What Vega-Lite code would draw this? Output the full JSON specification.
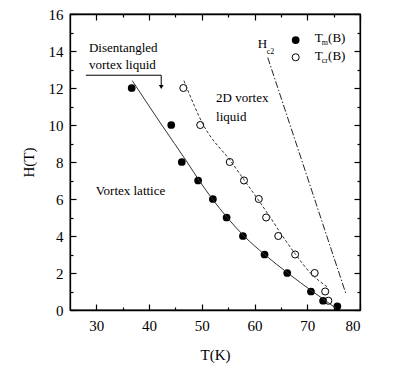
{
  "$schema": "https://vega.github.io/schema/vega-lite/v6.json",
  "width": 290,
  "height": 296,
  "autosize": "none",
  "padding": {"left": 70, "top": 14, "right": 55, "bottom": 60},
  "background": "white",
  "config": {
    "view": {"stroke": "#000", "strokeWidth": 1.3},
    "axis": {"tickColor": "#000", "tickWidth": 1.2, "grid": false, "domainColor": "#000", "domainWidth": 1.3,
             "labelFont": "Liberation Serif", "labelFontSize": 15, "labelColor": "#000",
             "titleFont": "Liberation Serif", "titleFontSize": 15, "titleFontWeight": "normal", "titleColor": "#000"}
  },
  "resolve": {"axis": {"x": "independent", "y": "independent"}},
  "layer": [
    {
      "data": {"values": [
        {"T": 36.7, "H": 12}, {"T": 44.2, "H": 10}, {"T": 46.2, "H": 8},
        {"T": 49.3, "H": 7}, {"T": 52.1, "H": 6}, {"T": 54.7, "H": 5},
        {"T": 57.8, "H": 4}, {"T": 61.9, "H": 3}, {"T": 66.2, "H": 2},
        {"T": 70.7, "H": 1}, {"T": 73.0, "H": 0.5}, {"T": 75.7, "H": 0.2},
        {"T": 67.8, "H": 14.59}
      ]},
      "mark": {"type": "point", "shape": "circle", "filled": true, "color": "#000", "size": 60, "opacity": 1},
      "encoding": {
        "x": {"field": "T", "type": "quantitative", "scale": {"domain": [25, 80], "nice": false},
              "axis": {"orient": "bottom", "title": "T(K)", "titlePadding": 14, "tickSize": -6, "labelPadding": 14,
                       "values": [30, 40, 50, 60, 70, 80]}},
        "y": {"field": "H", "type": "quantitative", "scale": {"domain": [0, 16], "nice": false},
              "axis": {"orient": "left", "title": "H(T)", "titlePadding": 12, "tickSize": -6, "labelPadding": 13,
                       "values": [0, 2, 4, 6, 8, 10, 12, 14, 16]}}
      }
    },
    {
      "data": {"values": [
        {"T": 46.5, "H": 12}, {"T": 49.7, "H": 10}, {"T": 55.3, "H": 8},
        {"T": 58.0, "H": 7}, {"T": 60.8, "H": 6}, {"T": 62.2, "H": 5},
        {"T": 64.5, "H": 4}, {"T": 67.7, "H": 3}, {"T": 71.4, "H": 2},
        {"T": 73.4, "H": 1}, {"T": 74.0, "H": 0.5},
        {"T": 67.8, "H": 13.66}
      ]},
      "mark": {"type": "point", "shape": "circle", "filled": false, "color": "#000", "strokeWidth": 1, "size": 50, "opacity": 1},
      "encoding": {
        "x": {"field": "T", "type": "quantitative",
              "axis": {"orient": "top", "tickSize": -6, "labels": false, "title": null, "values": [30, 40, 50, 60, 70, 80]}},
        "y": {"field": "H", "type": "quantitative",
              "axis": {"orient": "right", "tickSize": -6, "labels": false, "title": null, "values": [0, 2, 4, 6, 8, 10, 12, 14, 16]}}
      }
    },
    {
      "data": {"values": [
        {"T": 36.8, "H": 12.4}, {"T": 42.4, "H": 10}, {"T": 47.2, "H": 8},
        {"T": 49.5, "H": 7}, {"T": 52.0, "H": 6}, {"T": 54.8, "H": 5},
        {"T": 58.0, "H": 4}, {"T": 61.9, "H": 3}, {"T": 66.3, "H": 2},
        {"T": 71.0, "H": 1}, {"T": 73.5, "H": 0.5}, {"T": 75.4, "H": 0.1}
      ]},
      "mark": {"type": "line", "color": "#333", "strokeWidth": 1, "interpolate": "monotone"},
      "encoding": {
        "x": {"field": "T", "type": "quantitative",
              "axis": {"orient": "bottom", "tickSize": -3, "labels": false, "domain": false, "title": null, "values": [35, 45, 55, 65, 75]}},
        "y": {"field": "H", "type": "quantitative",
              "axis": {"orient": "left", "tickSize": -3, "labels": false, "domain": false, "title": null, "values": [1, 3, 5, 7, 9, 11, 13, 15]}}
      }
    },
    {
      "data": {"values": [
        {"T": 46.6, "H": 12.4}, {"T": 50.3, "H": 10}, {"T": 55.6, "H": 8},
        {"T": 58.1, "H": 7}, {"T": 60.6, "H": 6}, {"T": 63.0, "H": 5},
        {"T": 65.3, "H": 4}, {"T": 67.8, "H": 3}, {"T": 70.6, "H": 2},
        {"T": 73.8, "H": 1.25}
      ]},
      "mark": {"type": "line", "color": "#333", "strokeWidth": 1, "strokeDash": [3, 2], "interpolate": "monotone"},
      "encoding": {
        "x": {"field": "T", "type": "quantitative",
              "axis": {"orient": "top", "tickSize": -3, "labels": false, "domain": false, "title": null, "values": [35, 45, 55, 65, 75]}},
        "y": {"field": "H", "type": "quantitative",
              "axis": {"orient": "right", "tickSize": -3, "labels": false, "domain": false, "title": null, "values": [1, 3, 5, 7, 9, 11, 13, 15]}}
      }
    },
    {
      "data": {"values": [{"T": 62.5, "H": 13.65}, {"T": 77.3, "H": 0.9}]},
      "mark": {"type": "line", "color": "#222", "strokeWidth": 1, "strokeDash": [7, 2, 1.5, 2]},
      "encoding": {
        "x": {"field": "T", "type": "quantitative", "axis": null},
        "y": {"field": "H", "type": "quantitative", "axis": null}
      }
    },
    {
      "data": {"values": [
        {"T": 28.0, "T2": 42.3, "H": 12.69, "H2": 12.69},
        {"T": 42.3, "T2": 42.3, "H": 12.69, "H2": 12.1}
      ]},
      "mark": {"type": "rule", "color": "#000", "strokeWidth": 1},
      "encoding": {
        "x": {"field": "T", "type": "quantitative", "axis": null},
        "x2": {"field": "T2"},
        "y": {"field": "H", "type": "quantitative", "axis": null},
        "y2": {"field": "H2"}
      }
    },
    {
      "data": {"values": [{"T": 42.3, "H": 12.05}]},
      "mark": {"type": "point", "shape": "triangle-down", "filled": true, "color": "#000", "size": 22, "opacity": 1},
      "encoding": {
        "x": {"field": "T", "type": "quantitative", "axis": null},
        "y": {"field": "H", "type": "quantitative", "axis": null}
      }
    },
    {
      "data": {"values": [
        {"T": 28.6, "H": 14.16, "label": "Disentangled"},
        {"T": 28.6, "H": 13.24, "label": "vortex liquid"},
        {"T": 52.7, "H": 11.46, "label": "2D vortex"},
        {"T": 52.7, "H": 10.45, "label": "liquid"},
        {"T": 29.9, "H": 6.45, "label": "Vortex lattice"},
        {"T": 60.6, "H": 14.38, "label": "H"},
        {"T": 71.44, "H": 14.69, "label": "T"},
        {"T": 71.44, "H": 13.73, "label": "T"},
        {"T": 73.95, "H": 14.69, "label": "(B)"},
        {"T": 73.95, "H": 13.73, "label": "(B)"}
      ]},
      "mark": {"type": "text", "align": "left", "baseline": "middle", "fontSize": 13, "color": "#000", "font": "Liberation Serif"},
      "encoding": {
        "x": {"field": "T", "type": "quantitative", "axis": null},
        "y": {"field": "H", "type": "quantitative", "axis": null},
        "text": {"field": "label"}
      }
    },
    {
      "data": {"values": [
        {"T": 62.3, "H": 13.95, "label": "c2"},
        {"T": 72.75, "H": 14.45, "label": "m"},
        {"T": 72.75, "H": 13.48, "label": "cr"}
      ]},
      "mark": {"type": "text", "align": "left", "baseline": "middle", "fontSize": 8, "color": "#000", "font": "Liberation Serif"},
      "encoding": {
        "x": {"field": "T", "type": "quantitative", "axis": null},
        "y": {"field": "H", "type": "quantitative", "axis": null},
        "text": {"field": "label"}
      }
    }
  ]
}
